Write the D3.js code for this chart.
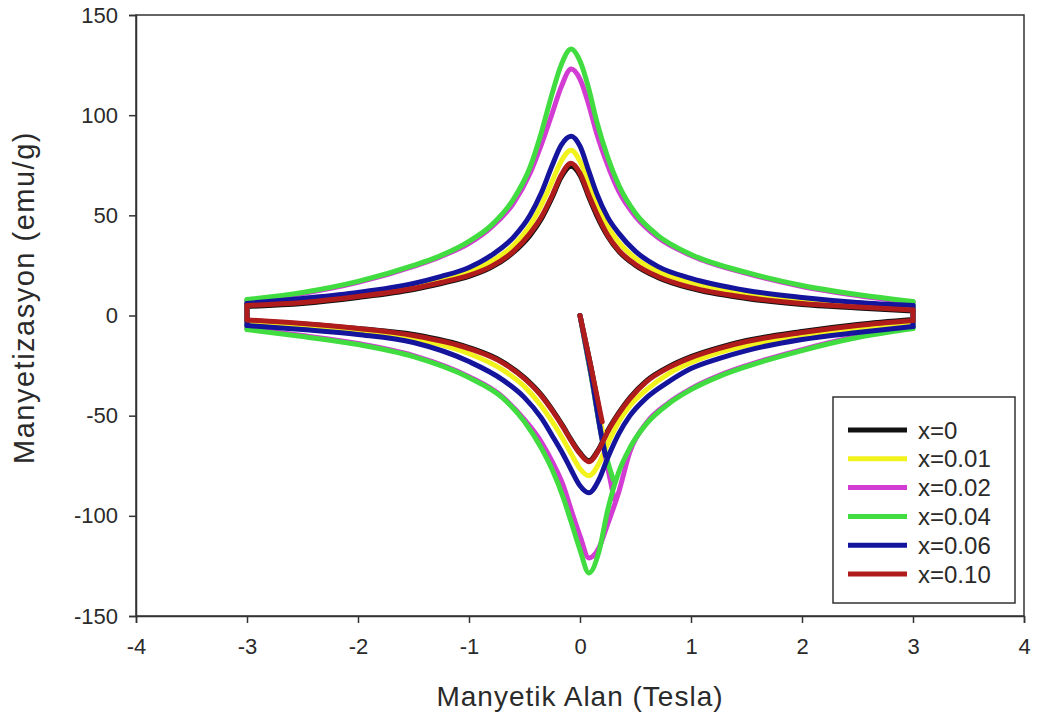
<!DOCTYPE html>
<html>
<head>
<meta charset="utf-8">
<script src="https://cdn.jsdelivr.net/npm/d3@7"></script>
<style>
  body { margin: 0; background: #ffffff; }
  text { font-family: "Liberation Sans", Arial, sans-serif; fill: #2a2a2a; }
</style>
</head>
<body>
<svg id="chart" width="1037" height="724"></svg>
<script>
// Series labels (composition x) and their line colours
const seriesNames = ["x=0", "x=0.01", "x=0.02", "x=0.04", "x=0.06", "x=0.10"];
const seriesColors = ["#111111", "#f2f21c", "#d23cd2", "#40dc40", "#14149c", "#b01c1c"];

// Axis ticks
const fieldTicks = [-4, -3, -2, -1, 0, 1, 2, 3, 4];
const magTicks = [-150, -100, -50, 0, 50, 100, 150];

// Upper branch: field values (Tesla)
const fieldUpper = [-3, -2.5, -2, -1.5, -1.25, -1, -0.8, -0.6, -0.45, -0.35, -0.25, -0.17, -0.08, 0, 0.08, 0.15, 0.25, 0.35, 0.5, 0.7, 1, 1.5, 2, 2.5, 3];
// Upper branch magnetization (emu/g)
const upperX0   = [4.5, 6, 9, 13, 16, 19.5, 24, 31.5, 40, 48, 59, 69, 74.5, 70, 59, 50, 39.5, 32, 25, 19, 13.5, 8.5, 5.5, 3.8, 2.2];
const upperX001 = [5.5, 7.5, 10.5, 15, 18, 22, 27, 35, 45, 55, 67, 77, 82.5, 77, 66, 56, 44.5, 36.5, 28.5, 22, 16.5, 11, 7.5, 5.5, 3.5];
const upperX002 = [7.5, 11, 16.5, 24.5, 29.5, 36, 44, 56, 71, 85, 101, 114, 123, 118, 105, 91, 75, 62, 49.5, 39, 30, 21, 14.5, 10, 6.5];
const upperX004 = [8, 11.5, 17, 25, 30, 37, 45, 58, 74, 91, 111, 125, 133, 127, 113, 97, 79, 65, 51, 40, 30.5, 21.5, 15, 10.5, 7];
const upperX006 = [6, 8.5, 11.5, 16, 19.5, 24, 30, 39, 50, 61, 75, 85, 89.5, 84.5, 72, 61, 49, 41, 32, 24.5, 18.5, 12.5, 9, 6.5, 5];
const upperX010 = [5, 6.5, 9.5, 13.5, 16.5, 20, 24.5, 32, 41, 49, 60, 70, 76, 71, 60, 51, 40, 32.5, 25.5, 19.5, 14, 9, 6, 4.2, 2.7];

// Lower branch: field values (Tesla)
const fieldLower = [-3, -2.5, -2, -1.5, -1, -0.7, -0.5, -0.35, -0.25, -0.15, -0.08, 0, 0.08, 0.17, 0.25, 0.35, 0.45, 0.6, 0.8, 1, 1.25, 1.5, 2, 2.5, 3];
// Lower branch magnetization (emu/g)
const lowerX0   = [-2.5, -4.2, -6.5, -9.5, -16, -23, -31, -39.5, -47, -55.5, -62, -68.5, -72.5, -66.5, -57.5, -48.5, -41, -32.5, -25.5, -20.5, -16, -12.5, -8, -4.5, -2];
const lowerX001 = [-3.5, -5.5, -8, -11.5, -19, -27, -35.5, -45, -53, -62, -69, -76.5, -80, -74, -64, -53, -45, -37, -29, -23.5, -18.5, -15, -10, -6.5, -4];
const lowerX002 = [-6.5, -10, -14, -20, -30.5, -40.5, -52, -63, -73, -85, -97, -110, -121, -116, -104, -88, -68, -53.5, -43.5, -36.5, -30, -25, -17, -10.5, -6];
const lowerX004 = [-7, -10.5, -14.5, -20.5, -31, -41, -53, -66, -77, -91, -103, -117, -128.5, -118, -97, -78, -66, -54, -44, -37, -30.5, -25.5, -17.5, -11, -6.5];
const lowerX006 = [-5, -7, -9.5, -13.5, -23, -32, -41, -51, -60, -69.5, -77, -85, -88.5, -82, -71, -59, -50, -41, -33, -26.5, -21.5, -17.5, -12, -8.5, -5.5];
const lowerX010 = [-2.2, -4, -6.5, -10, -16.5, -23.5, -31.5, -40, -47.5, -56, -62.5, -69, -73, -67, -58, -49, -41.5, -33, -26, -21, -16.5, -13, -8.5, -5, -2.5];

// Initial (virgin) magnetization curves, [field, magnetization]
const virginX0   = [[0, 0], [0.1, -26], [0.19, -52]];
const virginX001 = [[0, 0], [0.1, -28], [0.21, -60]];
const virginX002 = [[0, 0], [0.1, -30], [0.2, -62], [0.31, -92]];
const virginX004 = [[0, 0], [0.1, -30], [0.2, -62], [0.3, -82]];
const virginX006 = [[0, 0], [0.1, -29], [0.2, -62], [0.23, -70]];
const virginX010 = [[0, 0], [0.1, -26], [0.2, -53]];

const upperSets = [upperX0, upperX001, upperX002, upperX004, upperX006, upperX010];
const lowerSets = [lowerX0, lowerX001, lowerX002, lowerX004, lowerX006, lowerX010];
const virginSets = [virginX0, virginX001, virginX002, virginX004, virginX006, virginX010];

const svg = d3.select("#chart");
const plotLeft = 136, plotRight = 1024, plotTop = 15, plotBottom = 616;

const x = d3.scaleLinear().domain([-4, 4]).range([plotLeft, plotRight]);
const y = d3.scaleLinear().domain([-150, 150]).range([plotBottom, plotTop]);

// Frame around the plot area
svg.append("rect")
  .attr("x", plotLeft).attr("y", plotTop)
  .attr("width", plotRight - plotLeft).attr("height", plotBottom - plotTop)
  .attr("fill", "none").attr("stroke", "#333").attr("stroke-width", 1.5);

// Axes
const xAxis = svg.append("g")
  .attr("transform", `translate(0,${plotBottom})`)
  .call(d3.axisBottom(x).tickValues(fieldTicks).tickSize(7).tickPadding(15).tickFormat(d => String(d)));
const yAxis = svg.append("g")
  .attr("transform", `translate(${plotLeft},0)`)
  .call(d3.axisLeft(y).tickValues(magTicks).tickSize(7).tickPadding(11).tickFormat(d => String(d)));
[xAxis, yAxis].forEach(g => {
  g.selectAll("path.domain").attr("stroke", "#333").attr("stroke-width", 1.5);
  g.selectAll(".tick line").attr("stroke", "#333").attr("stroke-width", 1.5);
  g.selectAll(".tick text").attr("font-size", 22).attr("fill", "#2a2a2a")
    .attr("font-family", "Liberation Sans, Arial, sans-serif");
});

// Axis titles
svg.append("text")
  .attr("x", (plotLeft + plotRight) / 2).attr("y", 706)
  .attr("text-anchor", "middle").attr("font-size", 28).attr("letter-spacing", 1)
  .text("Manyetik Alan (Tesla)");
svg.append("text")
  .attr("transform", `translate(34,${(plotTop + plotBottom) / 2 - 18}) rotate(-90)`)
  .attr("text-anchor", "middle").attr("font-size", 29).attr("letter-spacing", 1.5)
  .text("Manyetizasyon (emu/g)");

// Curves
const curveLine = d3.line().x(d => x(d[0])).y(d => y(d[1])).curve(d3.curveMonotoneX);
const straight = d3.line().x(d => x(d[0])).y(d => y(d[1]));
const curves = svg.append("g").attr("fill", "none")
  .attr("stroke-width", 5).attr("stroke-linejoin", "round").attr("stroke-linecap", "round");

seriesNames.forEach((name, i) => {
  const up = fieldUpper.map((h, k) => [h, upperSets[i][k]]);
  const lo = fieldLower.map((h, k) => [h, lowerSets[i][k]]);
  const g = curves.append("g").attr("stroke", seriesColors[i]);
  g.append("path").attr("d", curveLine(virginSets[i]));
  g.append("path").attr("d", curveLine(up));
  g.append("path").attr("d", curveLine(lo));
  g.append("path").attr("d", straight([up[0], lo[0]]));
  g.append("path").attr("d", straight([up[up.length - 1], lo[lo.length - 1]]));
});

// Legend
const legend = svg.append("g");
legend.append("rect")
  .attr("x", 833).attr("y", 397).attr("width", 182).attr("height", 206)
  .attr("fill", "#fff").attr("stroke", "#333").attr("stroke-width", 1.5);
seriesNames.forEach((name, i) => {
  const ry = 430 + i * 28.8;
  legend.append("line")
    .attr("x1", 848).attr("x2", 907).attr("y1", ry).attr("y2", ry)
    .attr("stroke", seriesColors[i]).attr("stroke-width", 5);
  legend.append("text")
    .attr("x", 918).attr("y", ry).attr("dy", "0.36em")
    .attr("font-size", 24).text(name);
});
</script>
</body>
</html>
